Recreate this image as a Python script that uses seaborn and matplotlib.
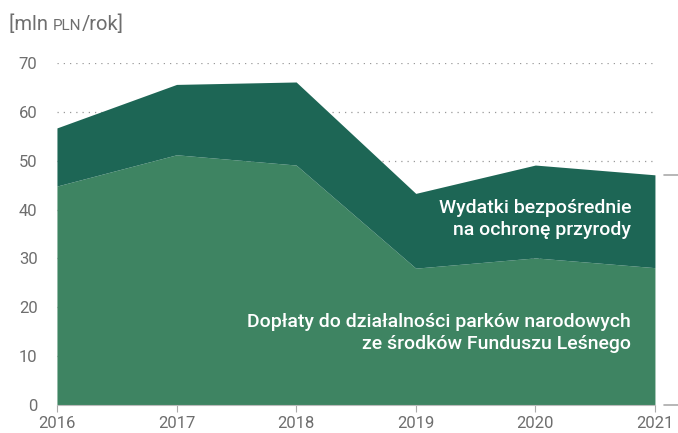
import matplotlib.pyplot as plt
import matplotlib.transforms as mtransforms
import seaborn as sns

# %% Data
years = [2016, 2017, 2018, 2019, 2020, 2021]
doplaty = [44.8, 51.2, 49.1, 28.0, 30.1, 28.1]
wydatki = [11.9, 14.4, 17.0, 15.3, 19.0, 19.0]
y_ticks = [0, 10, 20, 30, 40, 50, 60, 70]

LIGHT = "#3e8462"
DARK = "#1d6655"
GREY = "#6e6e6e"

# %% Style
sns.set_theme(style="white")
plt.rcParams["font.family"] = ["Roboto", "DejaVu Sans"]

fig = plt.figure(figsize=(6.78, 4.33), dpi=100)
ax = fig.add_axes([0.084, 0.0647, 0.882, 0.79])

ax.stackplot(years, doplaty, wydatki, colors=[LIGHT, DARK], linewidth=0, zorder=2)

ax.set_xlim(years[0], years[-1])
ax.set_ylim(0, 70)
ax.set_xticks(years)
ax.set_yticks(y_ticks)
ax.tick_params(axis="both", labelsize=12, labelcolor=GREY, colors="#aaaaaa")
ax.tick_params(axis="x", length=5, width=0.8, pad=3, bottom=True)
ax.tick_params(axis="y", length=0, pad=14)

for y in y_ticks[1:]:
    ax.axhline(y, color="#999999", linestyle=(0, (1, 4)), linewidth=0.9, zorder=1)

sns.despine(ax=ax, left=True, right=True, top=True)
ax.spines["bottom"].set_color("#bbbbbb")
ax.spines["bottom"].set_linewidth(0.8)
ax.spines["bottom"].set_zorder(3)

# small markers at the right edge
trans = mtransforms.blended_transform_factory(ax.transAxes, ax.transData)
total_last = doplaty[-1] + wydatki[-1]
for yv in [0, total_last]:
    ax.plot([1.015, 1.04], [yv, yv], color="#aaaaaa", linewidth=1.2,
            transform=trans, clip_on=False)

# unit label ("PLN" in small caps)
t1 = fig.text(0.013, 0.93, "[mln ", fontsize=14.5, color=GREY, va="baseline")
t2 = ax.annotate("PLN", xy=(1, 0), xycoords=t1, xytext=(0, 0.9),
                 textcoords="offset points", fontsize=11, color=GREY,
                 va="bottom", ha="left")
ax.annotate("/rok]", xy=(1, 0), xycoords=t2, xytext=(0, -0.9),
            textcoords="offset points", fontsize=14.5, color=GREY,
            va="bottom", ha="left")

# series labels
ax.text(2020.8, 38.0, "Wydatki bezpośrednie\nna ochronę przyrody", color="white",
        fontsize=14, fontweight="medium", ha="right", va="center",
        linespacing=1.3, zorder=4)
ax.text(2020.8, 14.8, "Dopłaty do działalności parków narodowych\nze środków Funduszu Leśnego",
        color="white", fontsize=14, fontweight="medium", ha="right", va="center",
        linespacing=1.3, zorder=4)

fig.savefig("out.png", dpi=100)
